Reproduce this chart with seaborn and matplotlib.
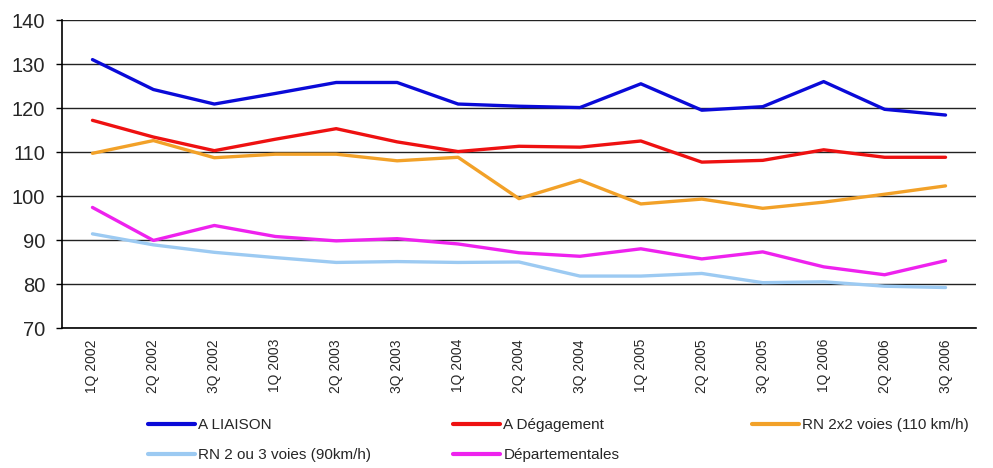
import pandas as pd
import matplotlib
matplotlib.use('Agg')
import matplotlib.pyplot as plt
from matplotlib.lines import Line2D
from matplotlib.ticker import FixedLocator
import seaborn as sns

# Quarters on the x axis
quarters = ['1Q 2002', '2Q 2002', '3Q 2002', '1Q 2003', '2Q 2003', '3Q 2003',
            '1Q 2004', '2Q 2004', '3Q 2004', '1Q 2005', '2Q 2005', '3Q 2005',
            '1Q 2006', '2Q 2006', '3Q 2006']

# Values
a_liaison = [131.0, 124.2, 120.9, 123.3, 125.8, 125.8, 120.9, 120.4, 120.1,
             125.5, 119.5, 120.3, 126.0, 119.7, 118.4]
a_degagement = [117.2, 113.4, 110.3, 112.9, 115.3, 112.3, 110.1, 111.3, 111.1,
                112.5, 107.7, 108.1, 110.5, 108.8, 108.8]
rn_2x2 = [109.7, 112.6, 108.7, 109.5, 109.5, 108.0, 108.8, 99.4, 103.6,
          98.2, 99.3, 97.2, 98.6, 100.4, 102.3]
rn_2ou3 = [91.4, 88.9, 87.2, 86.0, 84.9, 85.1, 84.9, 85.0, 81.8,
           81.8, 82.4, 80.3, 80.5, 79.5, 79.2]
departementales = [97.4, 89.9, 93.3, 90.8, 89.8, 90.3, 89.1, 87.1, 86.3,
                   88.0, 85.7, 87.3, 83.9, 82.1, 85.3]

series_names = ['A LIAISON', 'A Dégagement', 'RN 2x2 voies (110 km/h)',
                'RN 2 ou 3 voies (90km/h)', 'Départementales']
series_values = [a_liaison, a_degagement, rn_2x2, rn_2ou3, departementales]
colors = ['#0a0ad8', '#ee1111', '#f2a128', '#9ccaf2', '#ee22ee']

rows = []
for name, vals in zip(series_names, series_values):
    for i, v in enumerate(vals):
        rows.append({'pos': i, 'quarter': quarters[i], 'value': v, 'serie': name})
df = pd.DataFrame(rows)

sns.set_style('white')
plt.rcParams['font.family'] = ['Liberation Sans', 'DejaVu Sans']

fig = plt.figure(figsize=(9.93, 4.68), dpi=100)
ax = fig.add_axes([62 / 993, 1 - 328 / 468, 914 / 993, 308 / 468])

palette = dict(zip(series_names, colors))
sns.lineplot(data=df, x='pos', y='value', hue='serie', hue_order=series_names,
             palette=palette, linewidth=2.4, legend=False, ax=ax)

ax.set_xlim(-0.5, len(quarters) - 0.5)
ax.set_ylim(70, 140)
ax.set_yticks(range(70, 141, 10))
ax.set_xticks(range(len(quarters)))
ax.set_xticklabels(quarters, rotation=90, fontsize=10, va='top')
ax.xaxis.set_minor_locator(FixedLocator([i - 0.5 for i in range(len(quarters) + 1)]))
ax.tick_params(axis='x', which='major', length=0, pad=8)
ax.tick_params(axis='x', which='minor', length=4, width=1, color='black', direction='out')
ax.tick_params(axis='y', length=4, width=1, color='black', direction='out',
               labelsize=14.5, pad=8, left=True)
ax.set_xlabel('')
ax.set_ylabel('')

ax.grid(axis='y', color='#222222', linewidth=1)
ax.grid(axis='x', visible=False)
for side in ['top', 'right']:
    ax.spines[side].set_visible(False)
for side in ['left', 'bottom']:
    ax.spines[side].set_color('black')
    ax.spines[side].set_linewidth(1.2)
ax.set_axisbelow(True)

# Legend: three columns placed at the same spots as the original
handles = {n: Line2D([], [], color=c, linewidth=3) for n, c in zip(series_names, colors)}
columns = [(148, ['A LIAISON', 'RN 2 ou 3 voies (90km/h)']),
           (453, ['A Dégagement', 'Départementales']),
           (752, ['RN 2x2 voies (110 km/h)'])]
for x0, names in columns:
    leg = fig.legend([handles[n] for n in names], names,
                     loc='upper left', bbox_to_anchor=(x0 / 993, 1 - 418 / 468),
                     frameon=False, fontsize=11, handlelength=3.1,
                     handletextpad=0.2, labelspacing=1.05,
                     borderaxespad=0, borderpad=0)

fig.savefig('out.png', dpi=100)
